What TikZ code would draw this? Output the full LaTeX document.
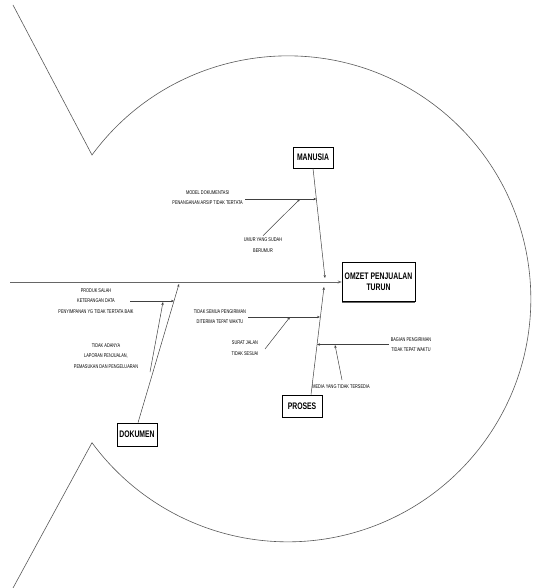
\documentclass[tikz,border=0pt]{standalone}
\usepackage{fontspec}
\setmainfont{Liberation Sans}
\newfontfamily\narrowfont[FakeStretch=0.72]{Liberation Sans}
\usetikzlibrary{arrows.meta,shadows}
\begin{document}
\begin{tikzpicture}[x=1pt,y=-1pt,
  outline/.style={draw=black!65, line width=0.6pt},
  catbox/.style={draw=black, line width=0.6pt, fill=white, inner sep=2pt, align=center,
    font=\narrowfont\bfseries\fontsize{9.5}{11}\selectfont,
    drop shadow={shadow xshift=0.4pt, shadow yshift=-1pt, fill=black!60, opacity=1}},
  cause/.style={inner sep=0pt, align=center, font=\narrowfont\fontsize{5.4}{10.5}\selectfont},
  bone/.style={draw=black!75, line width=0.5pt, -{Stealth[length=3pt,width=2.4pt]}},
  spine/.style={draw=black!60, line width=0.9pt, -{Stealth[length=4pt,width=3pt]}}]
\useasboundingbox (0,0) rectangle (534,588);

% fish outline
\coordinate (tailtop) at (13,5);
\coordinate (notchtop) at (92,155);
\coordinate (tailbot) at (13,588);
\draw[outline] (tailtop) -- (notchtop) arc[start angle=-143.7, end angle=143.7, radius=243] -- (tailbot);

% category boxes and effect
\node[catbox, minimum width=40pt, minimum height=21pt] (manusia) at (313,157.5) {MANUSIA};
\node[catbox, minimum width=73pt, minimum height=39pt] (omzet) at (378.5,282) {OMZET PENJUALAN\\TURUN};
\node[catbox, minimum width=40pt, minimum height=22pt] (proses) at (302,406) {PROSES};
\node[catbox, minimum width=40pt, minimum height=23pt] (dokumen) at (137,434.5) {DOKUMEN};

% spine
\coordinate (head) at (10,282);
\draw[spine] (head) -- (omzet.west);

% main bones
\coordinate (jm) at (325,278);
\coordinate (jp) at (324,287);
\coordinate (jd) at (179,284);
\draw[bone] (manusia.south) -- (jm);
\draw[bone] ([xshift=9pt]proses.north) -- (jp);
\draw[bone] ([xshift=1pt]dokumen.north) -- (jd);

% MANUSIA causes
\node[cause, anchor=east] (c1) at (243,197.5) {MODEL DOKUMENTASI\\PENANGANAN ARSIP TIDAK TERTATA};
\coordinate (c1e) at (316.4,199);
\draw[bone] ([xshift=2pt]c1.east |- c1e) -- (c1e);
\node[cause] (c2) at (263,245) {UMUR YANG SUDAH\\BERUMUR};
\coordinate (c2e) at (300,199);
\draw[bone] ([yshift=2pt]c2.north) -- (c2e);

% DOKUMEN causes
\node[cause] (c3) at (96,301) {PRODUK SALAH\\KETERANGAN DATA\\PENYIMPANAN YG TIDAK TERTATA BAIK};
\coordinate (c3s) at (130,301);
\coordinate (c3e) at (174,301);
\draw[bone] (c3s) -- (c3e);
\node[cause] (c4) at (106,356) {TIDAK ADANYA\\LAPORAN PENJUALAN,\\PEMASUKAN DAN PENGELUARAN};
\coordinate (c4s) at (150,372);
\coordinate (c4e) at (163,302);
\draw[bone] (c4s) -- (c4e);

% PROSES causes
\node[cause] (c5) at (220,316.5) {TIDAK SEMUA PENGIRIMAN\\DITERIMA TEPAT WAKTU};
\coordinate (c5e) at (320,317);
\draw[bone] ([xshift=2pt]c5.east |- c5e) -- (c5e);
\node[cause] (c6) at (245,348) {SURAT JALAN\\TIDAK SESUAI};
\coordinate (c6s) at (265,349);
\coordinate (c6e) at (290,317);
\draw[bone] (c6s) -- (c6e);
\node[cause] (c7) at (411,344.5) {BAGIAN PENGIRIMAN\\TIDAK TEPAT WAKTU};
\coordinate (c7e) at (317,344.5);
\draw[bone] ([xshift=-2pt]c7.west) -- (c7e);
\node[cause] (c8) at (341,387) {MEDIA YANG TIDAK TERSEDIA};
\coordinate (c8s) at (342,380);
\coordinate (c8e) at (335,345);
\draw[bone] (c8s) -- (c8e);
\end{tikzpicture}
\end{document}
